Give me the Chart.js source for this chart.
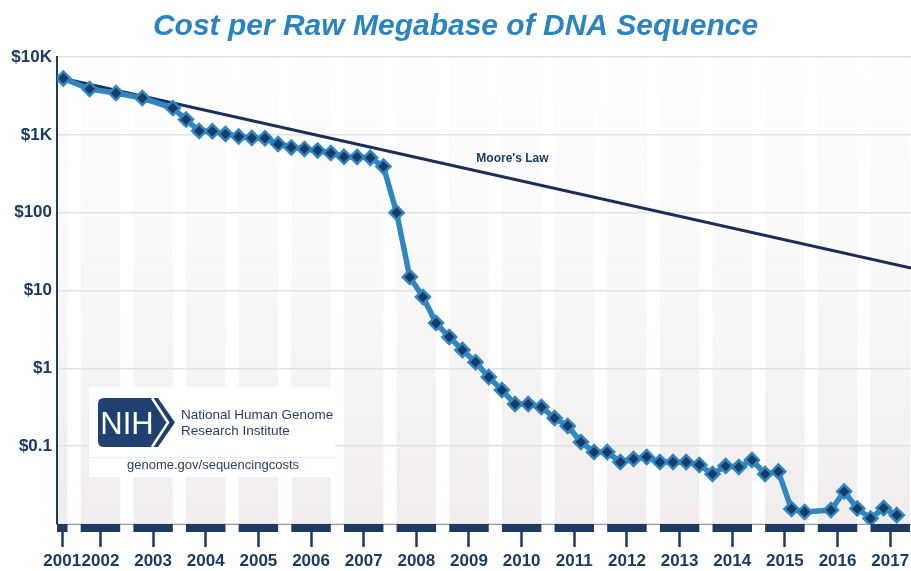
<!DOCTYPE html>
<html>
<head>
<meta charset="utf-8">
<script src="https://cdn.jsdelivr.net/npm/chart.js@4"></script>
<style>
  body { margin: 0; background: #fff; }
</style>
</head>
<body>
<canvas id="costChart" width="911" height="571"></canvas>
<script>
// quarterly sample dates (decimal years) and cost per raw megabase in USD
const dates = [
  2001.67, 2002.17, 2002.67, 2003.17, 2003.75,
  2004, 2004.25, 2004.5, 2004.75,
  2005, 2005.25, 2005.5, 2005.75,
  2006, 2006.25, 2006.5, 2006.75,
  2007, 2007.25, 2007.5, 2007.75,
  2008, 2008.25, 2008.5, 2008.75,
  2009, 2009.25, 2009.5, 2009.75,
  2010, 2010.25, 2010.5, 2010.75,
  2011, 2011.25, 2011.5, 2011.75,
  2012, 2012.25, 2012.5, 2012.75,
  2013, 2013.25, 2013.5, 2013.75,
  2014, 2014.25, 2014.5, 2014.75,
  2015, 2015.25, 2015.5, 2015.75,
  2016.25, 2016.5, 2016.75,
  2017, 2017.25, 2017.5,
]
const costPerMb = [
  5300, 3880, 3440, 2970, 2210,
  1570, 1120, 1110, 1025,
  950, 910, 905, 762,
  688, 658, 630, 584,
  522, 519, 506, 392,
  100, 14.9, 8.25, 3.82,
  2.53, 1.72, 1.2, 0.773,
  0.526, 0.348, 0.348, 0.318,
  0.23, 0.182, 0.113, 0.0841,
  0.0841, 0.0625, 0.0684, 0.0726,
  0.0625, 0.0625, 0.0625, 0.0573,
  0.0439, 0.0556, 0.054, 0.0664,
  0.0439, 0.0472, 0.0156, 0.0143,
  0.0151, 0.0261, 0.0158,
  0.0118, 0.016, 0.013,
]
const mooreDates = [2001.67, 2017.77]
const mooreCost = [5300, 19.4]
const mooreLabelAt = [2010.2, 490]

const tickYears = [2001, 2002, 2003, 2004, 2005, 2006, 2007, 2008, 2009,
  2010, 2011, 2012, 2013, 2014, 2015, 2016, 2017]
const yTicks = [0.01, 0.1, 1, 10, 100, 1000, 10000]
const yTickLabels = ['', '$0.1', '$1', '$10', '$100', '$1K', '$10K']

const X_MIN = 2001.55
const X_MAX = 2017.77
const navy = '#1b3a64'
const fontFamily = "'Liberation Sans', Arial, sans-serif"

Chart.defaults.font.family = fontFamily

// each year gets a band from Jan to Oct
function yearSpan(year) {
  return [Math.max(year, X_MIN), Math.min(year + 0.75, X_MAX)]
}

const yearBands = {
  id: 'yearBands',
  beforeDraw(chart) {
    const { ctx, chartArea } = chart
    const x = chart.scales.x
    const grad = ctx.createLinearGradient(0, chartArea.top, 0, chartArea.bottom)
    grad.addColorStop(0, 'rgba(240,237,236,0.05)')
    grad.addColorStop(0.4, 'rgba(240,237,236,0.3)')
    grad.addColorStop(1, 'rgba(240,237,236,1)')
    ctx.save()
    ctx.fillStyle = grad
    tickYears.forEach((year) => {
      const s = yearSpan(year)
      const x0 = x.getPixelForValue(s[0])
      const x1 = x.getPixelForValue(s[1])
      ctx.fillRect(x0, chartArea.top, x1 - x0, chartArea.bottom - chartArea.top)
    })
    ctx.restore()
  },
  afterDraw(chart) {
    const { ctx, chartArea } = chart
    const x = chart.scales.x
    ctx.save()
    ctx.fillStyle = navy
    tickYears.forEach((year) => {
      const s = yearSpan(year)
      const x0 = x.getPixelForValue(s[0])
      const x1 = x.getPixelForValue(s[1])
      ctx.fillRect(x0, chartArea.bottom, x1 - x0, 8)
    })
    ctx.restore()
  },
}

const annotations = {
  id: 'annotations',
  afterDraw(chart) {
    const { ctx, chartArea } = chart
    const sx = chart.scales.x
    const sy = chart.scales.y
    ctx.save()
    ctx.fillStyle = navy
    ctx.font = 'bold 12px ' + fontFamily
    ctx.textAlign = 'center'
    ctx.textBaseline = 'middle'
    ctx.fillText("Moore's Law", sx.getPixelForValue(mooreLabelAt[0]), sy.getPixelForValue(mooreLabelAt[1]))

    // NIH logo box
    const bx = chartArea.left + 32
    const by = chartArea.top + 330
    ctx.fillStyle = '#fff'
    ctx.fillRect(bx, by, 246, 90)
    ctx.strokeStyle = '#ececec'
    ctx.lineWidth = 1
    ctx.beginPath()
    ctx.moveTo(bx, by + 70.5)
    ctx.lineTo(bx + 246, by + 70.5)
    ctx.stroke()

    ctx.fillStyle = '#20416f'
    ctx.beginPath()
    ctx.moveTo(bx + 15, by + 11)
    ctx.lineTo(bx + 69, by + 11)
    ctx.lineTo(bx + 86, by + 35.5)
    ctx.lineTo(bx + 69, by + 60)
    ctx.lineTo(bx + 15, by + 60)
    ctx.quadraticCurveTo(bx + 9, by + 60, bx + 9, by + 54)
    ctx.lineTo(bx + 9, by + 17)
    ctx.quadraticCurveTo(bx + 9, by + 11, bx + 15, by + 11)
    ctx.fill()
    ctx.strokeStyle = '#fff'
    ctx.lineWidth = 2.5
    ctx.beginPath()
    ctx.moveTo(bx + 63, by + 11)
    ctx.lineTo(bx + 79, by + 35.5)
    ctx.lineTo(bx + 63, by + 60)
    ctx.stroke()

    ctx.fillStyle = '#fff'
    ctx.font = '31px ' + fontFamily
    ctx.textBaseline = 'alphabetic'
    ctx.fillText('NIH', bx + 38, by + 47)

    ctx.fillStyle = '#233f6b'
    ctx.textAlign = 'left'
    ctx.font = '13.5px ' + fontFamily
    ctx.fillText('National Human Genome', bx + 92, by + 32)
    ctx.fillText('Research Institute', bx + 92, by + 48)

    ctx.fillStyle = '#2c4266'
    ctx.textAlign = 'center'
    ctx.font = '13px ' + fontFamily
    ctx.fillText('genome.gov/sequencingcosts', bx + 124, by + 82)
    ctx.restore()
  },
}

new Chart(document.getElementById('costChart'), {
  type: 'line',
  data: {
    datasets: [
      {
        label: 'Cost per Raw Megabase',
        data: dates.map((d, i) => ({ x: d, y: costPerMb[i] })),
        borderColor: '#2f86c0',
        borderWidth: 5.5,
        pointStyle: 'rectRot',
        pointRadius: 7,
        pointBorderWidth: 2.5,
        pointBorderColor: '#2f86c0',
        pointBackgroundColor: '#183a64',
        tension: 0,
      },
      {
        label: "Moore's Law",
        data: mooreDates.map((d, i) => ({ x: d, y: mooreCost[i] })),
        borderColor: '#1a2f55',
        borderWidth: 3,
        pointRadius: 0,
      },
    ],
  },
  options: {
    responsive: false,
    animation: false,
    devicePixelRatio: 1,
    layout: { padding: 0, autoPadding: false },
    plugins: {
      legend: { display: false },
      tooltip: { enabled: false },
      title: {
        display: true,
        text: 'Cost per Raw Megabase of DNA Sequence',
        color: '#2b84c0',
        font: { size: 30, weight: 'bold', style: 'italic' },
        padding: { top: 9, bottom: 12 },
      },
    },
    scales: {
      x: {
        type: 'linear',
        min: X_MIN,
        max: X_MAX,
        afterBuildTicks: (axis) => {
          axis.ticks = tickYears.map((year) => {
            const s = yearSpan(year)
            return { value: (s[0] + s[1]) / 2 }
          })
        },
        afterFit: (axis) => {
          axis.height = 47
          axis.paddingLeft = 0
          axis.paddingRight = 0
        },
        ticks: {
          autoSkip: false,
          maxRotation: 0,
          padding: 4,
          color: navy,
          font: { size: 17, weight: 'bold' },
          callback: (v, i) => String(tickYears[i]),
        },
        grid: {
          drawOnChartArea: false,
          drawTicks: true,
          tickLength: 23,
          tickWidth: 2.5,
          tickColor: navy,
        },
        border: { display: true, color: '#8f9cb0', width: 1 },
      },
      y: {
        type: 'logarithmic',
        min: 0.01,
        max: 10000,
        afterBuildTicks: (axis) => {
          axis.ticks = yTicks.map((v) => ({ value: v }))
        },
        afterFit: (axis) => {
          axis.width = 57
        },
        ticks: {
          autoSkip: false,
          padding: 5,
          color: navy,
          font: { size: 17, weight: 'bold' },
          callback: (v, i) => yTickLabels[i],
        },
        grid: {
          color: '#e3e3e3',
          lineWidth: 1.5,
          drawTicks: false,
        },
        border: { color: navy, width: 2 },
      },
    },
  },
  plugins: [yearBands, annotations],
})
</script>
</body>
</html>
